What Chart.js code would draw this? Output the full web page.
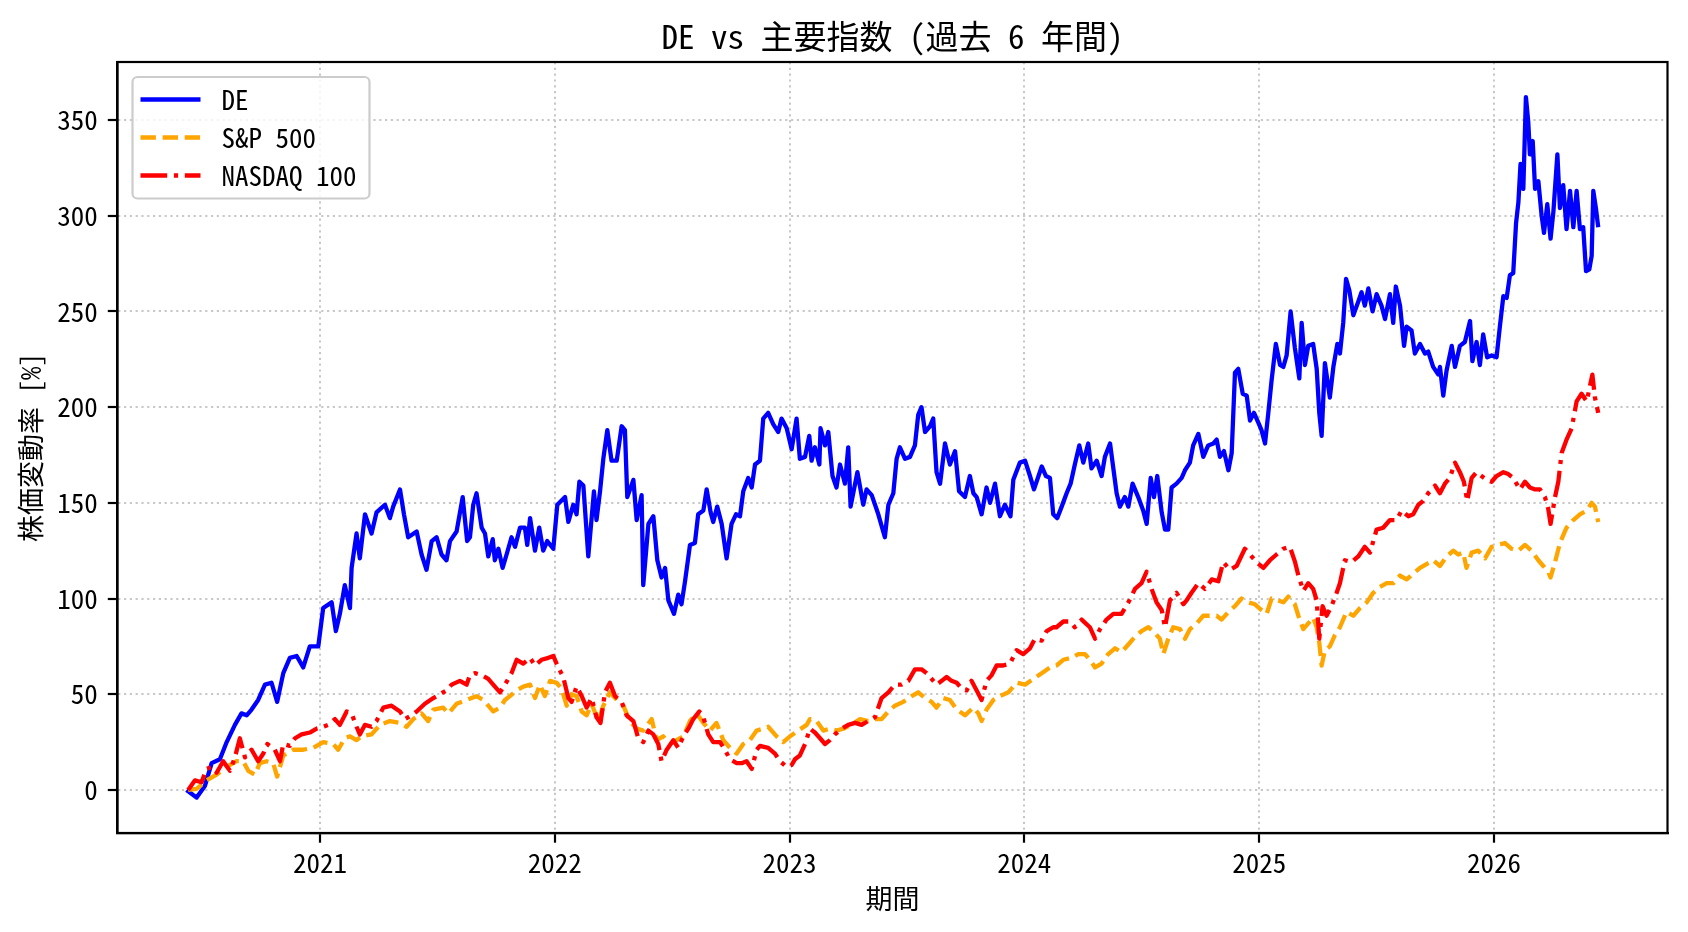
<!DOCTYPE html>
<html lang="ja">
<head>
<meta charset="utf-8">
<title>DE vs 主要指数</title>
<script src="https://cdn.jsdelivr.net/npm/chart.js@4.4.1/dist/chart.umd.min.js"></script>
<style>
  html, body { margin: 0; padding: 0; background: #fff; }
  #wrap { width: 1688px; height: 932px; }
</style>
</head>
<body>
<div id="wrap"><canvas id="chart" width="1688" height="932"></canvas></div>
<script>
const FONT = "'Noto Sans Mono CJK JP', 'Noto Sans CJK JP', sans-serif";

const titleText = 'DE vs 主要指数 (過去 6 年間)';
const xLabel = '期間';
const yLabel = '株価変動率 [%]';

const xTicks = [2021, 2022, 2023, 2024, 2025, 2026];
const yTicks = [0, 50, 100, 150, 200, 250, 300, 350];
const X_MIN = 2020.138;
const X_MAX = 2026.739;
const Y_MIN = -22.5;
const Y_MAX = 380.3;

// DE (x = fractional year)
const deYears = [
  2020.432, 2020.475, 2020.510, 2020.539, 2020.574, 2020.603, 2020.638, 2020.666, 2020.688, 2020.709,
  2020.737, 2020.766, 2020.794, 2020.818, 2020.844, 2020.872, 2020.901, 2020.929, 2020.957, 2020.993,
  2021.014, 2021.050, 2021.068, 2021.085, 2021.106, 2021.128, 2021.135, 2021.156, 2021.170, 2021.192,
  2021.220, 2021.241, 2021.277, 2021.298, 2021.312, 2021.341, 2021.358, 2021.376, 2021.412, 2021.433,
  2021.454, 2021.476, 2021.497, 2021.518, 2021.539, 2021.554, 2021.582, 2021.608, 2021.627, 2021.639,
  2021.653, 2021.667, 2021.689, 2021.703, 2021.717, 2021.736, 2021.745, 2021.760, 2021.778, 2021.795,
  2021.816, 2021.831, 2021.852, 2021.873, 2021.883, 2021.895, 2021.916, 2021.934, 2021.951, 2021.968,
  2021.994, 2022.011, 2022.044, 2022.058, 2022.079, 2022.093, 2022.105, 2022.122, 2022.143, 2022.167,
  2022.178, 2022.193, 2022.207, 2022.224, 2022.242, 2022.264, 2022.285, 2022.299, 2022.309, 2022.335,
  2022.349, 2022.370, 2022.377, 2022.399, 2022.420, 2022.437, 2022.455, 2022.470, 2022.484, 2022.508,
  2022.526, 2022.540, 2022.555, 2022.576, 2022.597, 2022.611, 2022.633, 2022.647, 2022.664, 2022.675,
  2022.692, 2022.711, 2022.732, 2022.753, 2022.772, 2022.789, 2022.803, 2022.824, 2022.839, 2022.853,
  2022.874, 2022.888, 2022.909, 2022.931, 2022.952, 2022.966, 2022.988, 2023.009, 2023.030, 2023.044,
  2023.066, 2023.084, 2023.094, 2023.108, 2023.127, 2023.132, 2023.151, 2023.165, 2023.183, 2023.200,
  2023.215, 2023.236, 2023.250, 2023.260, 2023.289, 2023.314, 2023.328, 2023.350, 2023.378, 2023.406,
  2023.421, 2023.442, 2023.456, 2023.470, 2023.492, 2023.513, 2023.534, 2023.548, 2023.562, 2023.577,
  2023.598, 2023.612, 2023.626, 2023.641, 2023.662, 2023.683, 2023.705, 2023.722, 2023.747, 2023.768,
  2023.783, 2023.797, 2023.818, 2023.839, 2023.854, 2023.875, 2023.896, 2023.917, 2023.941, 2023.953,
  2023.981, 2024.003, 2024.024, 2024.041, 2024.074, 2024.092, 2024.109, 2024.123, 2024.140, 2024.159,
  2024.180, 2024.197, 2024.215, 2024.234, 2024.251, 2024.272, 2024.286, 2024.308, 2024.329, 2024.343,
  2024.365, 2024.379, 2024.393, 2024.407, 2024.428, 2024.443, 2024.461, 2024.485, 2024.506, 2024.521,
  2024.538, 2024.552, 2024.566, 2024.585, 2024.599, 2024.613, 2024.627, 2024.648, 2024.670, 2024.684,
  2024.705, 2024.719, 2024.741, 2024.762, 2024.783, 2024.805, 2024.819, 2024.833, 2024.850, 2024.869,
  2024.883, 2024.897, 2024.911, 2024.930, 2024.947, 2024.961, 2024.978, 2024.996, 2025.010, 2025.025,
  2025.039, 2025.053, 2025.071, 2025.089, 2025.103, 2025.117, 2025.134, 2025.152, 2025.171, 2025.181,
  2025.195, 2025.209, 2025.230, 2025.245, 2025.256, 2025.266, 2025.280, 2025.301, 2025.316, 2025.333,
  2025.344, 2025.358, 2025.370, 2025.384, 2025.401, 2025.422, 2025.436, 2025.450, 2025.465, 2025.483,
  2025.500, 2025.521, 2025.536, 2025.557, 2025.571, 2025.582, 2025.600, 2025.617, 2025.628, 2025.649,
  2025.663, 2025.685, 2025.706, 2025.720, 2025.741, 2025.763, 2025.770, 2025.784, 2025.798, 2025.820,
  2025.834, 2025.855, 2025.876, 2025.898, 2025.908, 2025.926, 2025.940, 2025.954, 2025.971, 2025.990,
  2026.011, 2026.025, 2026.040, 2026.054, 2026.068, 2026.082, 2026.094, 2026.104, 2026.113, 2026.125,
  2026.136, 2026.146, 2026.153, 2026.165, 2026.175, 2026.189, 2026.203, 2026.213, 2026.227, 2026.241,
  2026.253, 2026.270, 2026.281, 2026.295, 2026.309, 2026.324, 2026.338, 2026.352, 2026.366, 2026.380,
  2026.392, 2026.406, 2026.416, 2026.423, 2026.434, 2026.444
];
const deValues = [
  0, -4, 2, 14, 16, 25, 34, 40, 39, 42,
  47, 55, 56, 46, 61, 69, 70, 64, 75, 75,
  95, 98, 83, 92, 107, 95, 116, 134, 121, 144,
  134, 145, 149, 142, 148, 157, 144, 132, 135, 123,
  115, 130, 132, 123, 120, 130, 135, 153, 130, 132,
  149, 155, 137, 134, 122, 131, 120, 126, 116, 123,
  132, 127, 137, 137, 128, 142, 125, 137, 125, 130,
  126, 149, 153, 140, 149, 144, 161, 159, 122, 156,
  141, 156, 173, 188, 172, 172, 190, 188, 153, 162,
  141, 154, 107, 139, 143, 120, 111, 116, 99, 92,
  102, 97, 109, 128, 129, 144, 146, 157, 145, 140,
  148, 139, 121, 139, 144, 143, 156, 163, 158, 170,
  172, 194, 197, 191, 187, 194, 189, 178, 194, 173,
  174, 185, 172, 179, 170, 189, 180, 187, 164, 158,
  170, 160, 179, 148, 166, 149, 157, 154, 144, 132,
  149, 155, 173, 179, 173, 174, 180, 196, 200, 187,
  190, 194, 166, 160, 181, 170, 177, 156, 153, 164,
  155, 153, 144, 158, 150, 160, 143, 149, 143, 162,
  171, 172, 164, 157, 169, 164, 163, 144, 142, 148,
  155, 160, 170, 180, 171, 181, 168, 172, 164, 174,
  181, 168, 155, 148, 153, 148, 160, 153, 146, 139,
  163, 153, 164, 145, 136, 136, 158, 160, 163, 167,
  171, 180, 186, 174, 180, 181, 183, 174, 177, 167,
  176, 218, 220, 207, 206, 193, 197, 192, 188, 181,
  197, 214, 233, 222, 221, 227, 250, 231, 215, 244,
  222, 232, 233, 220, 197, 185, 223, 205, 221, 233,
  228, 244, 267, 261, 248, 255, 260, 253, 262, 250,
  259, 253, 246, 259, 244, 263, 253, 232, 242, 240,
  228, 233, 228, 229, 221, 217, 221, 206, 219, 232,
  221, 232, 234, 245, 224, 234, 222, 238, 226, 227,
  226, 242, 258, 257, 269, 270, 296, 307, 327, 314,
  362, 349, 332, 339, 314, 318, 300, 291, 306, 288,
  302, 332, 304, 316, 293, 313, 294, 313, 293, 294,
  271, 272, 279, 313, 304, 294
];

// S&P 500
const spYears = [
  2020.439, 2020.475, 2020.517, 2020.560, 2020.603, 2020.645, 2020.673, 2020.695, 2020.723, 2020.744,
  2020.773, 2020.801, 2020.818, 2020.844, 2020.886, 2020.929, 2020.972, 2021.014, 2021.057, 2021.078,
  2021.106, 2021.128, 2021.156, 2021.177, 2021.220, 2021.256, 2021.298, 2021.341, 2021.369, 2021.398,
  2021.433, 2021.461, 2021.483, 2021.525, 2021.547, 2021.582, 2021.625, 2021.646, 2021.667, 2021.696,
  2021.717, 2021.738, 2021.767, 2021.788, 2021.809, 2021.838, 2021.866, 2021.895, 2021.916, 2021.937,
  2021.958, 2021.980, 2022.008, 2022.029, 2022.051, 2022.072, 2022.093, 2022.115, 2022.136, 2022.157,
  2022.186, 2022.207, 2022.235, 2022.264, 2022.292, 2022.320, 2022.349, 2022.377, 2022.413, 2022.434,
  2022.462, 2022.491, 2022.519, 2022.548, 2022.576, 2022.604, 2022.633, 2022.661, 2022.689, 2022.718,
  2022.746, 2022.775, 2022.803, 2022.831, 2022.860, 2022.888, 2022.909, 2022.945, 2022.973, 2023.002,
  2023.037, 2023.073, 2023.087, 2023.115, 2023.144, 2023.172, 2023.200, 2023.229, 2023.264, 2023.300,
  2023.335, 2023.364, 2023.392, 2023.421, 2023.449, 2023.484, 2023.520, 2023.548, 2023.577, 2023.605,
  2023.626, 2023.655, 2023.683, 2023.712, 2023.747, 2023.783, 2023.804, 2023.818, 2023.839, 2023.868,
  2023.896, 2023.932, 2023.967, 2024.003, 2024.038, 2024.074, 2024.109, 2024.137, 2024.166, 2024.201,
  2024.230, 2024.258, 2024.279, 2024.301, 2024.329, 2024.357, 2024.386, 2024.414, 2024.443, 2024.471,
  2024.499, 2024.528, 2024.556, 2024.577, 2024.592, 2024.613, 2024.634, 2024.663, 2024.684, 2024.705,
  2024.734, 2024.762, 2024.790, 2024.819, 2024.840, 2024.869, 2024.897, 2024.925, 2024.954, 2024.982,
  2025.010, 2025.032, 2025.053, 2025.081, 2025.103, 2025.124, 2025.152, 2025.167, 2025.188, 2025.209,
  2025.230, 2025.245, 2025.256, 2025.266, 2025.280, 2025.301, 2025.323, 2025.344, 2025.372, 2025.401,
  2025.429, 2025.458, 2025.486, 2025.514, 2025.543, 2025.571, 2025.600, 2025.628, 2025.656, 2025.685,
  2025.713, 2025.741, 2025.770, 2025.798, 2025.827, 2025.848, 2025.869, 2025.883, 2025.905, 2025.933,
  2025.962, 2025.990, 2026.018, 2026.047, 2026.075, 2026.104, 2026.132, 2026.160, 2026.189, 2026.210,
  2026.231, 2026.241, 2026.260, 2026.281, 2026.309, 2026.338, 2026.366, 2026.395, 2026.416, 2026.430,
  2026.444
];
const spValues = [
  0, 0.5, 5, 8, 12, 15, 15, 10, 8, 14,
  15, 14, 7, 18, 21, 21, 22, 25, 24, 21,
  27, 28, 26, 28, 29, 34, 36, 35, 33, 37,
  40, 36, 42, 43, 40, 45, 47, 48, 49, 47,
  44, 41, 43, 47, 49, 52, 54, 55, 48, 55,
  49, 57, 56, 53, 44, 50, 49, 41, 39, 45,
  36, 44, 51, 47, 44, 36, 32, 31, 37, 26,
  28, 24, 26, 28, 36, 40, 35, 31, 35, 26,
  22, 19, 24, 26, 31, 32, 33, 28, 25, 28,
  31, 34, 37, 36, 31, 32, 31, 32, 34, 37,
  36, 37, 37, 41, 44, 46, 49, 51, 48, 46,
  43, 48, 47, 42, 39, 43, 40, 36, 42, 47,
  49, 51, 56, 55, 58, 61, 64, 65, 68, 69,
  71, 71, 68, 64, 66, 71, 74, 72, 76, 80,
  83, 85, 82, 79, 71, 79, 85, 84, 79, 84,
  87, 91, 91, 91, 89, 93, 96, 100, 98, 97,
  94, 92, 100, 99, 98, 101, 97, 91, 84, 87,
  90, 85, 77, 65, 73, 75, 81, 85, 93, 91,
  95, 98, 103, 106, 108, 108, 112, 110, 113, 116,
  118, 120, 117, 122, 125, 123, 124, 116, 124, 125,
  121, 127, 128, 129, 126, 125, 128, 125, 120, 117,
  114, 111, 119, 129, 137, 141, 144, 146, 150, 148,
  140
];

// NASDAQ 100
const ndYears = [
  2020.439, 2020.468, 2020.496, 2020.517, 2020.539, 2020.560, 2020.588, 2020.617, 2020.638, 2020.659,
  2020.681, 2020.709, 2020.737, 2020.759, 2020.776, 2020.808, 2020.830, 2020.844, 2020.872, 2020.894,
  2020.922, 2020.957, 2020.986, 2021.014, 2021.035, 2021.064, 2021.085, 2021.114, 2021.135, 2021.156,
  2021.170, 2021.192, 2021.220, 2021.241, 2021.270, 2021.305, 2021.341, 2021.362, 2021.390, 2021.412,
  2021.447, 2021.483, 2021.511, 2021.539, 2021.561, 2021.596, 2021.625, 2021.639, 2021.660, 2021.689,
  2021.717, 2021.738, 2021.767, 2021.788, 2021.816, 2021.838, 2021.866, 2021.895, 2021.916, 2021.944,
  2021.973, 2021.994, 2022.015, 2022.036, 2022.058, 2022.072, 2022.093, 2022.115, 2022.136, 2022.157,
  2022.178, 2022.195, 2022.214, 2022.235, 2022.257, 2022.285, 2022.306, 2022.335, 2022.356, 2022.377,
  2022.399, 2022.420, 2022.441, 2022.455, 2022.477, 2022.505, 2022.526, 2022.548, 2022.569, 2022.590,
  2022.616, 2022.633, 2022.654, 2022.675, 2022.704, 2022.725, 2022.746, 2022.775, 2022.796, 2022.817,
  2022.839, 2022.860, 2022.874, 2022.909, 2022.938, 2022.959, 2022.988, 2023.009, 2023.023, 2023.044,
  2023.066, 2023.087, 2023.108, 2023.130, 2023.151, 2023.172, 2023.193, 2023.222, 2023.250, 2023.279,
  2023.307, 2023.335, 2023.364, 2023.392, 2023.421, 2023.449, 2023.477, 2023.506, 2023.534, 2023.562,
  2023.584, 2023.605, 2023.626, 2023.648, 2023.669, 2023.690, 2023.712, 2023.733, 2023.754, 2023.775,
  2023.797, 2023.818, 2023.839, 2023.861, 2023.882, 2023.910, 2023.939, 2023.967, 2023.995, 2024.024,
  2024.045, 2024.074, 2024.095, 2024.123, 2024.137, 2024.166, 2024.194, 2024.215, 2024.244, 2024.279,
  2024.301, 2024.322, 2024.350, 2024.379, 2024.414, 2024.443, 2024.471, 2024.499, 2024.521, 2024.542,
  2024.563, 2024.585, 2024.599, 2024.620, 2024.648, 2024.677, 2024.691, 2024.712, 2024.741, 2024.769,
  2024.798, 2024.826, 2024.847, 2024.876, 2024.904, 2024.939, 2024.961, 2024.989, 2025.018, 2025.046,
  2025.074, 2025.103, 2025.131, 2025.153, 2025.167, 2025.188, 2025.209, 2025.230, 2025.245, 2025.256,
  2025.270, 2025.287, 2025.308, 2025.330, 2025.344, 2025.365, 2025.394, 2025.422, 2025.450, 2025.472,
  2025.500, 2025.528, 2025.557, 2025.585, 2025.607, 2025.635, 2025.656, 2025.678, 2025.699, 2025.720,
  2025.749, 2025.770, 2025.791, 2025.812, 2025.834, 2025.855, 2025.872, 2025.886, 2025.905, 2025.926,
  2025.947, 2025.969, 2025.990, 2026.011, 2026.040, 2026.061, 2026.082, 2026.110, 2026.132, 2026.153,
  2026.175, 2026.196, 2026.217, 2026.231, 2026.241, 2026.260, 2026.274, 2026.288, 2026.309, 2026.331,
  2026.352, 2026.373, 2026.395, 2026.419, 2026.430, 2026.444
];
const ndValues = [
  0, 5, 4, 11, 12, 9, 15, 10, 17, 27,
  17, 21, 15, 19, 24, 21, 15, 24, 23, 27,
  29, 30, 32, 33, 34, 37, 34, 41, 40, 33,
  29, 34, 33, 36, 43, 44, 41, 37, 39, 41,
  45, 48, 50, 52, 55, 57, 55, 60, 61, 60,
  58, 55, 51, 55, 61, 68, 66, 69, 65, 68,
  69, 70, 64, 59, 48, 46, 54, 49, 43, 48,
  38, 35, 51, 56, 49, 46, 39, 36, 27, 25,
  31, 29, 24, 15, 21, 26, 22, 28, 32, 37,
  41, 38, 29, 25, 25, 21, 16, 14, 14, 15,
  11, 21, 23, 22, 19, 15, 12, 13, 16, 18,
  24, 32, 30, 27, 24, 26, 29, 32, 34, 35,
  34, 36, 38, 48, 51, 55, 55, 57, 63, 63,
  61, 58, 55, 57, 59, 57, 56, 53, 52, 57,
  52, 47, 57, 60, 65, 65, 66, 73, 71, 74,
  79, 78, 83, 85, 85, 88, 88, 85, 89, 85,
  79, 84, 89, 92, 92, 98, 105, 108, 114, 105,
  98, 94, 85, 99, 103, 97, 99, 103, 108, 105,
  110, 109, 119, 115, 117, 126, 123, 119, 116, 120,
  123, 126, 127, 119, 112, 104, 108, 105, 99, 79,
  96, 91, 96, 103, 108, 120, 119, 122, 127, 124,
  136, 137, 141, 141, 146, 143, 144, 149, 151, 155,
  159, 155, 160, 163, 171, 166, 161, 151, 163, 166,
  164, 162, 161, 164, 166, 165, 163, 157, 161, 158,
  157, 157, 153, 147, 139, 153, 161, 176, 183, 189,
  203, 207, 203, 217, 205, 197
];

const toPoints = (xs, ys) => xs.map((x, i) => ({ x: x, y: ys[i] }));

// matplotlib-like full frame around the plot area
const framePlugin = {
  id: 'frame',
  afterDatasetsDraw(chart) {
    const { ctx, chartArea: a } = chart;
    ctx.save();
    ctx.strokeStyle = '#000';
    ctx.lineWidth = 2.2;
    ctx.strokeRect(a.left, a.top, a.right - a.left, a.bottom - a.top);
    ctx.restore();
  }
};

// legend box in the upper left corner of the plot
const legendPlugin = {
  id: 'mplLegend',
  afterDraw(chart) {
    const { ctx, chartArea: a } = chart;
    const sets = chart.data.datasets;
    const left = a.left + 15;
    const top = a.top + 15;
    const rowH = 38;
    const firstRow = top + 22.5;
    const handleX = left + 8;
    const handleW = 60;
    const textX = handleX + handleW + 21;

    ctx.save();
    ctx.font = '27px ' + FONT;
    let textW = 0;
    sets.forEach(ds => { textW = Math.max(textW, ctx.measureText(ds.label).width); });
    const w = textX + textW + 13 - left;
    const h = firstRow + rowH * (sets.length - 1) + 23 - top;

    const r = 5;
    ctx.beginPath();
    ctx.moveTo(left + r, top);
    ctx.arcTo(left + w, top, left + w, top + h, r);
    ctx.arcTo(left + w, top + h, left, top + h, r);
    ctx.arcTo(left, top + h, left, top, r);
    ctx.arcTo(left, top, left + w, top, r);
    ctx.closePath();
    ctx.fillStyle = 'rgba(255,255,255,0.8)';
    ctx.fill();
    ctx.strokeStyle = '#cccccc';
    ctx.lineWidth = 2.2;
    ctx.stroke();

    sets.forEach((ds, i) => {
      const y = firstRow + rowH * i;
      ctx.beginPath();
      ctx.setLineDash(ds.borderDash || []);
      ctx.lineCap = 'butt';
      ctx.strokeStyle = ds.borderColor;
      ctx.lineWidth = ds.borderWidth;
      ctx.moveTo(handleX, y);
      ctx.lineTo(handleX + handleW, y);
      ctx.stroke();
      ctx.setLineDash([]);
      ctx.fillStyle = '#000';
      ctx.textAlign = 'left';
      ctx.textBaseline = 'middle';
      ctx.fillText(ds.label, textX, y);
    });
    ctx.restore();
  }
};

Chart.defaults.font.family = FONT;
Chart.defaults.color = '#000';

const gridOpts = {
  color: '#c8c8c8',
  lineWidth: 2,
  tickLength: 9.7,
  tickColor: '#000',
  tickWidth: 2.2
};
const borderOpts = { display: true, color: '#000', width: 2.2, dash: [2.2, 3.6] };

new Chart(document.getElementById('chart'), {
  type: 'line',
  data: {
    datasets: [
      {
        label: 'DE',
        data: toPoints(deYears, deValues),
        borderColor: '#0000ff',
        borderWidth: 4.3,
        order: 3
      },
      {
        label: 'S&P 500',
        data: toPoints(spYears, spValues),
        borderColor: '#ffa500',
        borderWidth: 4.3,
        borderDash: [15.4, 6.7],
        order: 2
      },
      {
        label: 'NASDAQ 100',
        data: toPoints(ndYears, ndValues),
        borderColor: '#ff0000',
        borderWidth: 4.3,
        borderDash: [26.7, 6.7, 4.2, 6.7],
        order: 1
      }
    ]
  },
  options: {
    responsive: false,
    animation: false,
    devicePixelRatio: 1,
    layout: { padding: { left: 0, right: 20.5, top: 0, bottom: 0 } },
    elements: {
      point: { radius: 0 },
      line: { tension: 0, fill: false, borderJoinStyle: 'round' }
    },
    scales: {
      x: {
        type: 'linear',
        min: X_MIN,
        max: X_MAX,
        afterFit: s => { s.height = 99; },
        afterBuildTicks: s => { s.ticks = xTicks.map(v => ({ value: v })); },
        ticks: {
          autoSkip: false,
          maxRotation: 0,
          padding: 4,
          font: { size: 27 },
          callback: v => String(v)
        },
        grid: gridOpts,
        border: borderOpts,
        title: {
          display: true,
          text: xLabel,
          font: { size: 27 },
          padding: { top: 0, bottom: 17 }
        }
      },
      y: {
        type: 'linear',
        min: Y_MIN,
        max: Y_MAX,
        afterFit: s => { s.width = 117.5; },
        afterBuildTicks: s => { s.ticks = yTicks.map(v => ({ value: v })); },
        ticks: {
          autoSkip: false,
          padding: 10,
          font: { size: 27 },
          callback: v => String(v)
        },
        grid: gridOpts,
        border: borderOpts,
        title: {
          display: true,
          text: yLabel,
          font: { size: 27 },
          padding: { top: 15, bottom: 0 }
        }
      }
    },
    plugins: {
      legend: { display: false },
      tooltip: { enabled: false },
      title: {
        display: true,
        text: titleText,
        fullSize: false,
        font: { size: 33, weight: 'normal' },
        color: '#000',
        padding: { top: 16.2, bottom: 6.2 }
      }
    }
  },
  plugins: [framePlugin, legendPlugin]
});
</script>
</body>
</html>
